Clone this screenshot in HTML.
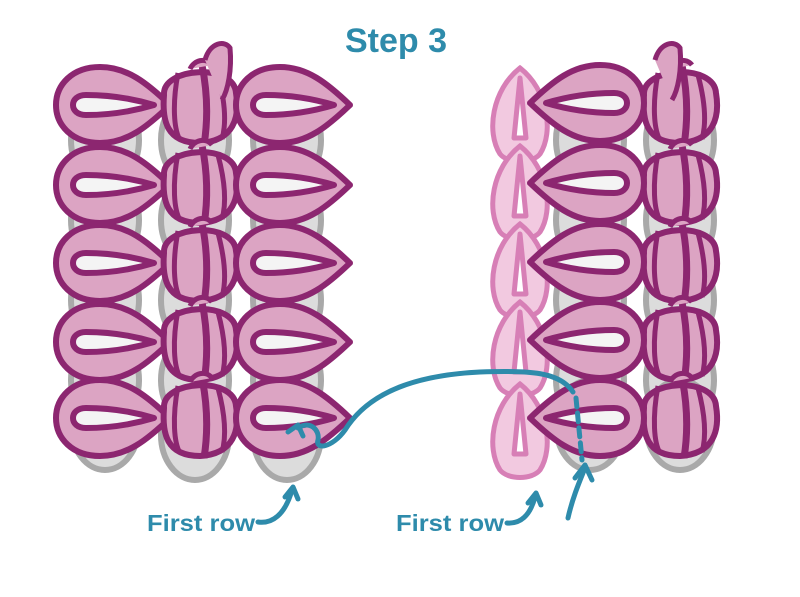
<!DOCTYPE html>
<html><head><style>
html,body{margin:0;padding:0;background:#fff;}
svg{display:block}
text{font-family:"Liberation Sans",sans-serif;font-weight:bold;fill:#2e8bab}
</style></head><body>
<svg width="800" height="597" viewBox="0 0 800 597" xmlns="http://www.w3.org/2000/svg">
<defs>
  <g id="petal">
    <path d="M58 0 C35 -22 15 -38 -12 -38 C-40 -38 -56 -20 -56 0 C-56 20 -40 38 -12 38 C15 38 35 22 58 0 Z" fill="#dca4c3" stroke="#8c2670" stroke-width="6" stroke-linejoin="round"/>
    <path d="M42 0 C22 -6 0 -10 -26 -10 C-35 -10 -39 -5 -39 0 C-39 5 -35 10 -26 10 C0 10 22 6 42 0 Z" fill="#f4f4f4" stroke="#8c2670" stroke-width="6" stroke-linejoin="round"/>
  </g>
  <g id="knot">
    <path d="M-36 -10 C-38 -38 34 -42 36 -12 C40 12 34 36 0 38 C-34 38 -38 15 -36 -10 Z" fill="#dca4c3" stroke="#8c2670" stroke-width="6"/>
    <path d="M-22 -32 C-28 0 -26 25 -20 35" fill="none" stroke="#8c2670" stroke-width="5"/>
    <path d="M2 -40 C8 -10 8 15 4 40" fill="none" stroke="#8c2670" stroke-width="7"/>
    <path d="M18 -30 C26 0 26 20 22 34" fill="none" stroke="#8c2670" stroke-width="5"/>
    <path d="M-10 -36 C-6 -45 6 -48 12 -40" fill="#dca4c3" stroke="#8c2670" stroke-width="5"/>
  </g>
  <g id="grey">
    <ellipse cx="0" cy="0" rx="34" ry="45" fill="#dcdcdc" stroke="#a9a9a9" stroke-width="6"/>
  </g>
  <g id="chain">
    <path d="M0 -44 C28 -22 34 20 20 42 C12 52 -12 52 -20 42 C-34 20 -28 -22 0 -44 Z" fill="#f2c9e0" stroke="#d77fb6" stroke-width="5"/>
    <path d="M0 -34 L-6 26 L6 26 Z" fill="#fff" stroke="#d77fb6" stroke-width="5" stroke-linejoin="round"/>
  </g>
</defs>

<text x="396" y="52" font-size="34" text-anchor="middle">Step 3</text>

<g>
  <use href="#grey" x="105" y="140"/><use href="#grey" x="105" y="220"/><use href="#grey" x="105" y="300"/><use href="#grey" x="105" y="380"/><use href="#grey" x="105" y="425"/>
  <use href="#grey" x="195" y="140"/><use href="#grey" x="195" y="220"/><use href="#grey" x="195" y="300"/><use href="#grey" x="195" y="380"/><use href="#grey" x="195" y="435"/>
  <use href="#grey" x="287" y="140"/><use href="#grey" x="287" y="220"/><use href="#grey" x="287" y="300"/><use href="#grey" x="287" y="380"/><use href="#grey" x="287" y="435"/>
</g>
<g>
  <use href="#petal" x="112" y="105"/><use href="#petal" x="112" y="185"/><use href="#petal" x="112" y="263"/><use href="#petal" x="112" y="342"/><use href="#petal" x="112" y="418"/>
  <use href="#knot" x="200" y="105"/><use href="#knot" x="200" y="185"/><use href="#knot" x="200" y="263"/><use href="#knot" x="200" y="342"/><use href="#knot" x="200" y="418"/>
  <path d="M205 60 C210 42 225 40 230 48 C232 70 228 90 222 100" fill="#dca4c3" stroke="#8c2670" stroke-width="5"/>
  <use href="#petal" x="292" y="105"/><use href="#petal" x="292" y="185"/><use href="#petal" x="292" y="263"/><use href="#petal" x="292" y="342"/><use href="#petal" x="292" y="418"/>
</g>

<g>
  <use href="#grey" x="590" y="140"/><use href="#grey" x="590" y="220"/><use href="#grey" x="590" y="300"/><use href="#grey" x="590" y="380"/><use href="#grey" x="590" y="425"/>
  <use href="#grey" x="680" y="140"/><use href="#grey" x="680" y="220"/><use href="#grey" x="680" y="300"/><use href="#grey" x="680" y="380"/><use href="#grey" x="680" y="425"/>
</g>
<g>
  <use href="#chain" x="520" y="112"/><use href="#chain" x="520" y="190"/><use href="#chain" x="520" y="268"/><use href="#chain" x="520" y="346"/><use href="#chain" x="520" y="428"/>
</g>
<g>
  <use href="#knot" x="680" y="105"/><use href="#knot" x="680" y="185"/><use href="#knot" x="680" y="263"/><use href="#knot" x="680" y="342"/><use href="#knot" x="680" y="418"/>
  <path d="M655 60 C660 42 675 40 680 48 C682 70 678 90 672 100" fill="#dca4c3" stroke="#8c2670" stroke-width="5"/>
  <g transform="translate(588 0) scale(-1 1)"><use href="#petal" x="0" y="103"/><use href="#petal" x="0" y="183"/><use href="#petal" x="0" y="262"/><use href="#petal" x="0" y="340"/><use href="#petal" x="0" y="418"/></g>
</g>

<g fill="none" stroke="#2e8bab" stroke-width="5" stroke-linecap="round" stroke-linejoin="round">
  <path d="M298 428 C310 420 320 430 318 440 C315 450 332 448 345 430 C370 390 420 375 480 372 C530 370 560 372 573 392"/>
  <path d="M576 398 L582 460" stroke-dasharray="9 6"/>
  <path d="M288 432 L298 425 L303 436"/>
  <path d="M568 518 C572 500 578 485 585 468"/>
  <path d="M575 478 L585 465 L592 480"/>
  <path d="M258 522 C272 524 285 515 292 490"/>
  <path d="M285 497 L293 487 L298 499"/>
  <path d="M507 523 C520 524 530 516 535 497"/>
  <path d="M528 503 L536 493 L541 505"/>
</g>

<text x="147" y="531" font-size="23" textLength="108" lengthAdjust="spacingAndGlyphs">First row</text>
<text x="396" y="531" font-size="23" textLength="108" lengthAdjust="spacingAndGlyphs">First row</text>
</svg>
</body></html>
